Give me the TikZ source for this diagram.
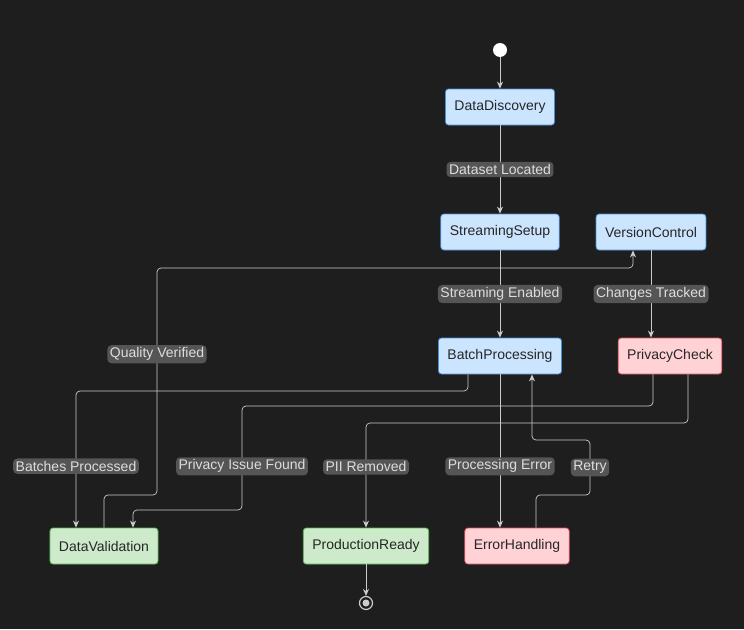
\documentclass[tikz,border=0pt]{standalone}
\usepackage{fontspec}
\setmainfont{Liberation Sans}
\usetikzlibrary{arrows.meta,positioning}
\definecolor{bgcol}{HTML}{1E1E1E}
\definecolor{linecol}{HTML}{CCCCCC}
\definecolor{bluefill}{HTML}{CCE5FF}
\definecolor{blueline}{HTML}{4A90D9}
\definecolor{redfill}{HTML}{FFD3D6}
\definecolor{redline}{HTML}{E0505F}
\definecolor{greenfill}{HTML}{CDEBCB}
\definecolor{greenline}{HTML}{5CB85C}
\definecolor{lblfill}{HTML}{555555}
\definecolor{lbltext}{HTML}{DDDDDD}
\begin{document}
\begin{tikzpicture}[x=1pt, y=-1pt, font=\fontsize{14}{16}\selectfont]
  % styles
  \tikzset{
   estado/.style={
           rectangle,
           rounded corners=3pt,
           draw,
           line width=0.8pt,
           minimum height=36pt,
           text=black!85,
           inner xsep=9pt},
   azul/.style={estado, fill=bluefill, draw=blueline},
   rojo/.style={estado, fill=redfill, draw=redline},
   verde/.style={estado, fill=greenfill, draw=greenline},
   etiqueta/.style={
           fill=lblfill,
           text=lbltext,
           inner sep=2.5pt},
   arrow/.style={
           -{Stealth[length=7pt,width=6pt]},
           draw=linecol,
           line width=0.7pt,
           rounded corners=4pt}
    }
  \fill[bgcol] (0,0) rectangle (744,629);
  \useasboundingbox (0,0) rectangle (744,629);

  % Estados
  \node[circle, fill=white, minimum size=14pt, inner sep=0pt] (inicio) at (500,50) {};
  \node[azul] (discovery) at (500,107) {DataDiscovery};
  \node[azul] (streaming) at (500,232) {StreamingSetup};
  \node[azul] (version) at (651,232) {VersionControl};
  \node[azul] (batch) at (500,356) {BatchProcessing};
  \node[rojo] (privacy) at (670,356) {PrivacyCheck};
  \node[verde] (validation) at (104,546) {DataValidation};
  \node[verde] (production) at (366,546) {ProductionReady};
  \node[rojo] (error) at (517,546) {ErrorHandling};
  \node[circle, draw=linecol, line width=1.2pt, minimum size=13pt, inner sep=0pt] (fin) at (366,603) {};
  \fill[linecol] (fin) circle (3.5pt);

  % Transiciones
  \draw[arrow] (inicio) -- (discovery);
  \draw[arrow] (discovery) -- node[etiqueta] {Dataset Located} (streaming);
  \draw[arrow] (streaming) -- node[etiqueta] {Streaming Enabled} (batch);
  \draw[arrow] (version) -- node[etiqueta, pos=0.5] {Changes Tracked} (privacy.north -| version);
  \draw[arrow] (batch.south -| 468,0) |- (76,391) -- node[etiqueta, pos=0.55] {Batches Processed} (validation.north -| 76,0);
  \draw[arrow] (validation.north -| 104,0) |- (157,495) -- node[etiqueta, pos=0.62] {Quality Verified} (157,268) -| (version.south -| 633,0);
  \draw[arrow] (privacy.south -| 653,0) |- (242,406) -- node[etiqueta, pos=0.58] {Privacy Issue Found} (242,510) -| (validation.north -| 133,0);
  \draw[arrow] (privacy.south -| 688,0) |- (366,423) -- node[etiqueta, pos=0.42] {PII Removed} (production);
  \draw[arrow] (batch) -- node[etiqueta, pos=0.6] {Processing Error} (error.north -| batch);
  \draw[arrow] (error.north -| 536,0) |- (590,495) -- node[etiqueta, pos=0.5] {Retry} (590,440) -| (batch.south -| 532,0);
  \draw[arrow] (production) -- (fin);
\end{tikzpicture}
\end{document}
